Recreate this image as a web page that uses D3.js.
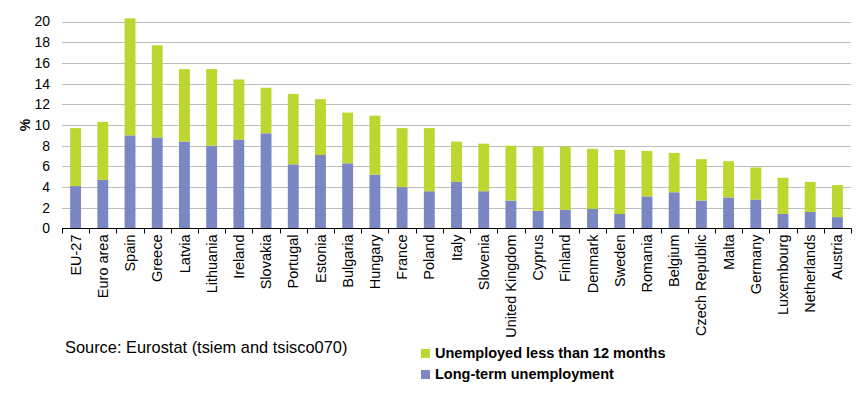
<!DOCTYPE html>
<html>
<head>
<meta charset="utf-8">
<script src="https://cdn.jsdelivr.net/npm/d3@7"></script>
<style>
    body { margin: 0; background: #ffffff; }
    svg { display: block; font-family: "Liberation Sans", Arial, sans-serif; }
</style>
</head>
<body>
<div id="chart"></div>
<script>
// Countries, in the order shown
const COUNTRIES = [
    "EU-27", "Euro area", "Spain", "Greece", "Latvia", "Lithuania", "Ireland",
    "Slovakia", "Portugal", "Estonia", "Bulgaria", "Hungary", "France", "Poland",
    "Italy", "Slovenia", "United Kingdom", "Cyprus", "Finland", "Denmark", "Sweden",
    "Romania", "Belgium", "Czech Republic", "Malta", "Germany", "Luxembourg",
    "Netherlands", "Austria"
];

// Long-term unemployment (%)
const LONG_TERM = [
    4.1, 4.7, 9.0, 8.8, 8.4, 8.0, 8.6,
    9.2, 6.2, 7.1, 6.3, 5.2, 4.0, 3.6,
    4.5, 3.6, 2.7, 1.7, 1.8, 1.9, 1.4,
    3.1, 3.5, 2.7, 3.0, 2.8, 1.4,
    1.6, 1.1
];

// Unemployed less than 12 months (%)
const SHORT_TERM = [
    5.6, 5.6, 11.3, 8.9, 7.0, 7.4, 5.8,
    4.4, 6.8, 5.4, 4.9, 5.7, 5.7, 6.1,
    3.9, 4.6, 5.3, 6.2, 6.1, 5.8, 6.2,
    4.4, 3.8, 4.0, 3.5, 3.1, 3.5,
    2.9, 3.1
];

const Y_TICKS = [0, 2, 4, 6, 8, 10, 12, 14, 16, 18, 20];

const SERIES = [
    { key: "long", label: "Long-term unemployment", color: "#7b87c2" },
    { key: "short", label: "Unemployed less than 12 months", color: "#bdd630" }
];

const WIDTH = 862;
const HEIGHT = 398;

const PLOT_LEFT = 62;
const PLOT_RIGHT = 851;
const PLOT_TOP = 21.5;
const PLOT_BOTTOM = 228.5;

const TICK_SIZE = 5;

// Build table rows for the stack layout
const rows = COUNTRIES.map((country, idx) => ({
    country: country,
    long: LONG_TERM[idx],
    short: SHORT_TERM[idx]
}));

const stacked = d3.stack().keys(SERIES.map(s => s.key))(rows);

const xScale = d3.scaleBand()
    .domain(COUNTRIES)
    .range([PLOT_LEFT, PLOT_RIGHT])
    .paddingInner(0.6)
    .paddingOuter(0.3);

const yScale = d3.scaleLinear()
    .domain([0, 20])
    .range([PLOT_BOTTOM, PLOT_TOP]);

const svg = d3.select("#chart")
    .append("svg")
    .attr("width", WIDTH)
    .attr("height", HEIGHT);

// Horizontal gridlines
svg.append("g")
    .selectAll("line")
    .data(Y_TICKS.filter(t => t > 0))
    .join("line")
    .attr("x1", PLOT_LEFT)
    .attr("x2", PLOT_RIGHT)
    .attr("y1", d => Math.round(yScale(d)) + 0.5)
    .attr("y2", d => Math.round(yScale(d)) + 0.5)
    .attr("stroke", "#bcbcbc")
    .attr("stroke-width", 1);

// Y axis labels, no axis line
const yAxis = svg.append("g")
    .attr("transform", `translate(${PLOT_LEFT}, 0)`)
    .call(d3.axisLeft(yScale).tickValues(Y_TICKS).tickSize(0).tickPadding(12));
yAxis.select(".domain").remove();
yAxis.selectAll("text")
    .style("font-size", "14px")
    .style("font-family", "'Liberation Sans', Arial, sans-serif")
    .attr("fill", "#000");

// "%" unit label
svg.append("text")
    .attr("transform", `translate(30, ${yScale(10)}) rotate(-90)`)
    .attr("text-anchor", "middle")
    .style("font-size", "14px")
    .style("font-weight", "bold")
    .text("%");

// Stacked bars
svg.append("g")
    .selectAll("g")
    .data(stacked)
    .join("g")
    .attr("fill", (layer, idx) => SERIES[idx].color)
    .selectAll("rect")
    .data(layer => layer)
    .join("rect")
    .attr("x", d => xScale(d.data.country))
    .attr("width", xScale.bandwidth())
    .attr("y", d => yScale(d[1]))
    .attr("height", d => yScale(d[0]) - yScale(d[1]));

// X axis: line plus ticks between categories
const step = xScale.step();
const boundaries = d3.range(COUNTRIES.length + 1).map(i => PLOT_LEFT + i * step);

const xAxis = svg.append("g")
    .attr("transform", `translate(0, ${PLOT_BOTTOM})`);

xAxis.append("line")
    .attr("x1", PLOT_LEFT)
    .attr("x2", PLOT_RIGHT + 0.5)
    .attr("stroke", "#000");

xAxis.selectAll(".sep")
    .data(boundaries)
    .join("line")
    .attr("class", "sep")
    .attr("x1", d => Math.round(d) + 0.5)
    .attr("x2", d => Math.round(d) + 0.5)
    .attr("y1", 0)
    .attr("y2", TICK_SIZE)
    .attr("stroke", "#000");

const labelAxis = svg.append("g")
    .attr("transform", `translate(0, ${PLOT_BOTTOM})`)
    .call(d3.axisBottom(xScale).tickSize(0));
labelAxis.select(".domain").remove();
labelAxis.selectAll("text")
    .attr("transform", "rotate(-90)")
    .attr("text-anchor", "end")
    .attr("x", -6)
    .attr("y", 0)
    .attr("dy", "0.35em")
    .attr("fill", "#000")
    .style("font-size", "14.5px")
    .style("font-family", "'Liberation Sans', Arial, sans-serif");

// Source note
svg.append("text")
    .attr("x", 65)
    .attr("y", 352.5)
    .style("font-size", "16.4px")
    .text("Source: Eurostat (tsiem and tsisco070)");

// Legend: short-term on top, long-term below
const legendItems = [SERIES[1], SERIES[0]];
const legend = svg.append("g");

legend.selectAll("rect")
    .data(legendItems)
    .join("rect")
    .attr("x", 421)
    .attr("y", (_d, idx) => 349 + idx * 21)
    .attr("width", 9)
    .attr("height", 9)
    .attr("fill", d => d.color);

legend.selectAll("text")
    .data(legendItems)
    .join("text")
    .attr("x", 435)
    .attr("y", (_d, idx) => 358.3 + idx * 21)
    .style("font-size", "14.5px")
    .style("font-weight", "bold")
    .text(d => d.label);
</script>
</body>
</html>
